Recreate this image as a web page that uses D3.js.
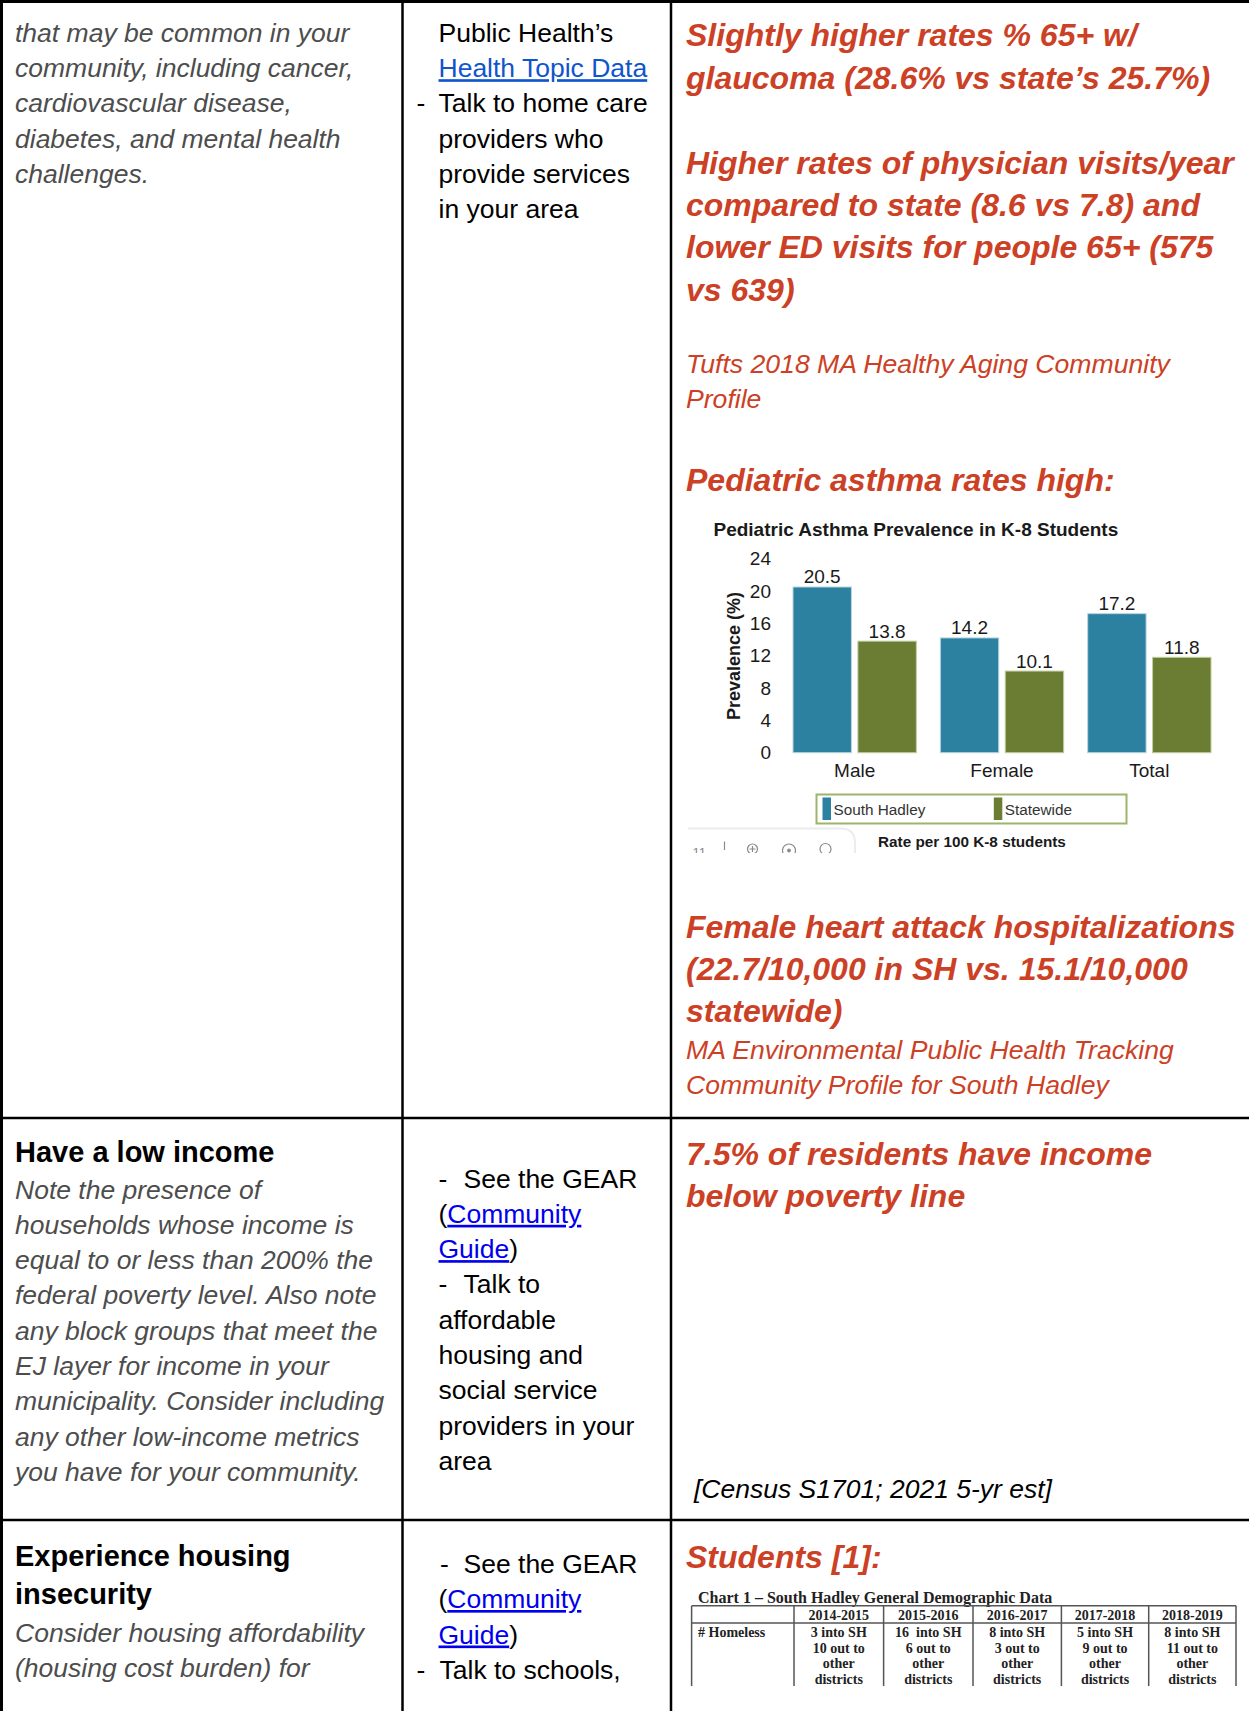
<!DOCTYPE html>
<html>
<head>
<meta charset="utf-8">
<script src="https://cdn.jsdelivr.net/npm/d3@7"></script>
<style>
  body { margin: 0; background: #fff; }
  svg { display: block; font-family: "Liberation Sans", Arial, sans-serif; }
</style>
</head>
<body>
<svg id="page" width="1249" height="1711"></svg>
<script>
// chart data
const groups = ['Male', 'Female', 'Total'];
const series = ['South Hadley', 'Statewide'];
const southHadley = [20.5, 14.2, 17.2];
const statewide = [13.8, 10.1, 11.8];
const yTicks = [0, 4, 8, 12, 16, 20, 24];
const seriesColors = ['#2b819f', '#6a7d32'];

// homeless table
const schoolYears = ['2014-2015', '2015-2016', '2016-2017', '2017-2018', '2018-2019'];
const intoSH = ['3', '16 ', '8', '5', '8'];
const outTo = ['10', '6', '3', '9', '11'];

const RED = '#cc4125';
const GRAY = '#4d4d4d';
const svg = d3.select('#page');

svg.append('rect').attr('width', 1249).attr('height', 1711).attr('fill', '#fff');

// writes a block of lines; each line is a string or an array of [text, style] parts
const textLines = (lines, x, y0, step, style) => {
  const t = svg.append('g');
  lines.forEach((line, i) => {
    const el = t.append('text')
      .attr('x', x)
      .attr('y', y0 + i * step)
      .attr('font-size', style.size)
      .attr('font-weight', style.weight || 'normal')
      .attr('font-style', style.italic ? 'italic' : 'normal')
      .attr('fill', style.color || '#000')
      .style('white-space', 'pre');
    const parts = typeof line === 'string' ? [[line, {}]] : line;
    parts.forEach(([txt, s]) => {
      const sp = el.append('tspan').text(txt);
      if (s.link) sp.attr('fill', s.link).style('text-decoration', 'underline');
      if (s.dx !== undefined) sp.attr('x', x + s.dx);
    });
  });
};

// ---------- column 1 ----------
textLines([
  'that may be common in your',
  'community, including cancer,',
  'cardiovascular disease,',
  'diabetes, and mental health',
  'challenges.'
], 15, 42, 35.2, { size: 26.5, italic: true, color: GRAY });

textLines(['Have a low income'], 15, 1162, 38, { size: 29, weight: 'bold' });
textLines([
  'Note the presence of',
  'households whose income is',
  'equal to or less than 200% the',
  'federal poverty level. Also note',
  'any block groups that meet the',
  'EJ layer for income in your',
  'municipality. Consider including',
  'any other low-income metrics',
  'you have for your community.'
], 15, 1198.5, 35.3, { size: 26.5, italic: true, color: GRAY });

textLines(['Experience housing', 'insecurity'], 15, 1566, 38.4, { size: 29, weight: 'bold' });
textLines([
  'Consider housing affordability',
  '(housing cost burden) for'
], 15, 1641.5, 35.3, { size: 26.5, italic: true, color: GRAY });

// ---------- column 2 ----------
textLines([
  'Public Health\u2019s',
  [['Health Topic Data', { link: '#1155cc' }]],
  [['-', { dx: -22 }], ['Talk to home care', { dx: 0 }]],
  'providers who',
  'provide services',
  'in your area'
], 438.5, 42, 35.2, { size: 26.5 });

textLines([
  [['-', {}], ['See the GEAR', { dx: 25 }]],
  [['(', {}], ['Community', { link: '#0000ee' }]],
  [['Guide', { link: '#0000ee' }], [')', {}]],
  [['-', {}], ['Talk to', { dx: 25 }]],
  'affordable',
  'housing and',
  'social service',
  'providers in your',
  'area'
], 438.5, 1187.5, 35.3, { size: 26.5 });

textLines([
  [['-', { dx: 1.5 }], ['See the GEAR', { dx: 25 }]],
  [['(', {}], ['Community', { link: '#0000ee' }]],
  [['Guide', { link: '#0000ee' }], [')', {}]],
  [['-', { dx: -22 }], ['Talk to schools,', { dx: 1 }]]
], 438.5, 1572.5, 35.5, { size: 26.5 });

// ---------- column 3 ----------
const head = { size: 32, weight: 'bold', italic: true, color: RED };
const src = { size: 26.6, italic: true, color: RED };
textLines(['Slightly higher rates % 65+ w/', 'glaucoma (28.6% vs state\u2019s 25.7%)'], 686, 46, 42.6, head);
textLines([
  'Higher rates of physician visits/year',
  'compared to state (8.6 vs 7.8) and',
  'lower ED visits for people 65+ (575',
  'vs 639)'
], 686, 174, 42.2, head);
textLines(['Tufts 2018 MA Healthy Aging Community', 'Profile'], 686, 372.5, 35, src);
textLines(['Pediatric asthma rates high:'], 686, 490.5, 42, head);
textLines([
  'Female heart attack hospitalizations',
  '(22.7/10,000 in SH vs. 15.1/10,000',
  'statewide)'
], 686, 937.5, 42, head);
textLines(['MA Environmental Public Health Tracking', 'Community Profile for South Hadley'], 686, 1059, 35, src);
textLines(['7.5% of residents have income', 'below poverty line'], 686, 1164.5, 42.4, head);
textLines(['[Census S1701; 2021 5-yr est]'], 694, 1497.5, 35, { size: 26.5, italic: true });
textLines(['Students [1]:'], 686, 1568, 42, head);

// ---------- asthma chart ----------
const chart = svg.append('g');
const x0 = d3.scaleBand().domain(groups).range([793, 1211]).paddingInner(0.163).paddingOuter(0);
const x1 = d3.scaleBand().domain(series).range([0, x0.bandwidth()]).paddingInner(0.1);
const y = d3.scaleLinear().domain([0, 24]).range([752.7, 558.7]);
const color = d3.scaleOrdinal().domain(series).range(seriesColors);

chart.append('text')
  .attr('x', 713.5).attr('y', 535.5)
  .attr('font-size', 19).attr('font-weight', 'bold').attr('fill', '#1a1a1a')
  .text('Pediatric Asthma Prevalence in K-8 Students');

const yAxis = chart.append('g')
  .attr('transform', 'translate(773,0)')
  .call(d3.axisLeft(y).tickValues(yTicks).tickSize(0).tickPadding(2));
yAxis.select('.domain').remove();
yAxis.selectAll('text').attr('font-size', 19).attr('font-family', 'Liberation Sans, Arial, sans-serif').attr('fill', '#1a1a1a');

chart.append('text')
  .attr('transform', 'translate(740,656) rotate(-90)')
  .attr('text-anchor', 'middle')
  .attr('font-size', 18).attr('font-weight', 'bold').attr('fill', '#1a1a1a')
  .text('Prevalence (%)');

const rows = groups.map((g, i) => ({ group: g, values: [southHadley[i], statewide[i]] }));
const gBars = chart.selectAll('.grp')
  .data(rows)
  .enter().append('g')
  .attr('transform', d => `translate(${x0(d.group)},0)`);

gBars.selectAll('rect')
  .data(d => d.values.map((v, j) => ({ key: series[j], value: v })))
  .enter().append('rect')
  .attr('x', d => x1(d.key))
  .attr('y', d => y(d.value))
  .attr('width', x1.bandwidth())
  .attr('height', d => y(0) - y(d.value))
  .attr('fill', d => color(d.key))
  .attr('stroke', d => d.key === series[0] ? '#b9d6e0' : '#c3cc9e')
  .attr('stroke-width', 1);

gBars.selectAll('.val')
  .data(d => d.values.map((v, j) => ({ key: series[j], value: v })))
  .enter().append('text')
  .attr('x', d => x1(d.key) + x1.bandwidth() / 2)
  .attr('y', d => y(d.value) - 3.5)
  .attr('text-anchor', 'middle')
  .attr('font-size', 19).attr('fill', '#1a1a1a')
  .text(d => d.value.toFixed(1));

const xAxis = chart.append('g')
  .attr('transform', `translate(0,${y(0)})`)
  .call(d3.axisBottom(x0).tickSize(0).tickPadding(11));
xAxis.select('.domain').remove();
xAxis.selectAll('text').attr('font-size', 19).attr('font-family', 'Liberation Sans, Arial, sans-serif').attr('fill', '#1a1a1a');

// legend
chart.append('rect')
  .attr('x', 816.5).attr('y', 794.5).attr('width', 310).attr('height', 29)
  .attr('fill', 'none').attr('stroke', '#9db46c').attr('stroke-width', 2);
const legend = chart.selectAll('.legend')
  .data(series)
  .enter().append('g')
  .attr('transform', (d, i) => `translate(${822.5 + i * 171.3},0)`);
legend.append('rect')
  .attr('y', 797.5).attr('width', 8.5).attr('height', 22.5)
  .attr('fill', d => color(d));
legend.append('text')
  .attr('x', 11).attr('y', 814.5)
  .attr('font-size', 15.3).attr('fill', '#333')
  .text(d => d);

chart.append('text')
  .attr('x', 878).attr('y', 846.5)
  .attr('font-size', 15.3).attr('font-weight', 'bold').attr('fill', '#1a1a1a')
  .text('Rate per 100 K-8 students');

// bits of a viewer toolbar caught in the screenshot, cut off at the bottom
svg.append('clipPath').attr('id', 'cut')
  .append('rect').attr('x', 680).attr('y', 815).attr('width', 190).attr('height', 38);
const tb = svg.append('g').attr('clip-path', 'url(#cut)')
  .attr('fill', 'none').attr('stroke', '#8a8a8a').attr('stroke-width', 1.2);
tb.append('path')
  .attr('d', 'M688,828.5 H841 Q855,828.5 855,843 V860')
  .attr('stroke', '#ececec').attr('stroke-width', 2);
tb.append('text').attr('x', 692.5).attr('y', 857).attr('font-size', 13)
  .attr('fill', '#888').attr('stroke', 'none').text('11');
tb.append('line').attr('x1', 724.5).attr('x2', 724.5).attr('y1', 841.5).attr('y2', 850);
tb.append('circle').attr('cx', 752.5).attr('cy', 849).attr('r', 5);
tb.append('path').attr('d', 'M749.5,849 h6 M752.5,846 v6');
tb.append('circle').attr('cx', 789).attr('cy', 850.5).attr('r', 6.5);
tb.append('circle').attr('cx', 789).attr('cy', 850.5).attr('r', 1.3).attr('fill', '#8a8a8a');
tb.append('circle').attr('cx', 825.5).attr('cy', 849).attr('r', 5.5);

// ---------- homeless table ----------
const tbl = svg.append('g').attr('font-family', 'Liberation Serif, Times New Roman, serif');
tbl.append('text')
  .attr('x', 698).attr('y', 1603).attr('font-size', 16).attr('font-weight', 'bold').attr('fill', '#222')
  .text('Chart 1 \u2013 South Hadley General Demographic Data');

const colEdges = [691.6, 794, 883.6, 973, 1061.4, 1148.7, 1236];
const tx = d3.scaleOrdinal().domain(schoolYears).range(schoolYears.map((s, i) => (colEdges[i + 1] + colEdges[i + 2]) / 2));
tbl.selectAll('.vline')
  .data(colEdges)
  .enter().append('line')
  .attr('x1', d => d).attr('x2', d => d)
  .attr('y1', 1605.8).attr('y2', 1686)
  .attr('stroke', '#555').attr('stroke-width', 1.5);
[1605.8, 1623].forEach(yy => {
  tbl.append('line').attr('x1', 691.6).attr('x2', 1236).attr('y1', yy).attr('y2', yy)
    .attr('stroke', '#555').attr('stroke-width', 1.5);
});
tbl.selectAll('.hdr')
  .data(schoolYears)
  .enter().append('text')
  .attr('x', d => tx(d)).attr('y', 1619.5)
  .attr('text-anchor', 'middle').attr('font-size', 14).attr('font-weight', 'bold').attr('fill', '#222')
  .text(d => d);
tbl.append('text')
  .attr('x', 698).attr('y', 1637).attr('font-size', 14).attr('font-weight', 'bold').attr('fill', '#222')
  .text('# Homeless');
schoolYears.forEach((yr, i) => {
  const cell = [`${intoSH[i]} into SH`, `${outTo[i]} out to`, 'other', 'districts'];
  cell.forEach((s, k) => {
    tbl.append('text')
      .attr('x', tx(yr)).attr('y', 1637 + k * 15.6)
      .attr('text-anchor', 'middle').attr('font-size', 14).attr('font-weight', 'bold').attr('fill', '#222')
      .style('white-space', 'pre')
      .text(s);
  });
});

// ---------- grid lines of the outer table ----------
const grid = svg.append('g').attr('stroke', '#000');
grid.append('line').attr('x1', 0).attr('x2', 1249).attr('y1', 1.5).attr('y2', 1.5).attr('stroke-width', 3);
grid.append('line').attr('x1', 1.5).attr('x2', 1.5).attr('y1', 0).attr('y2', 1711).attr('stroke-width', 3);
[402.5, 671].forEach(xx => {
  grid.append('line').attr('x1', xx).attr('x2', xx).attr('y1', 0).attr('y2', 1711).attr('stroke-width', 2.5);
});
[1118, 1520].forEach(yy => {
  grid.append('line').attr('x1', 0).attr('x2', 1249).attr('y1', yy).attr('y2', yy).attr('stroke-width', 2.5);
});
</script>
</body>
</html>
